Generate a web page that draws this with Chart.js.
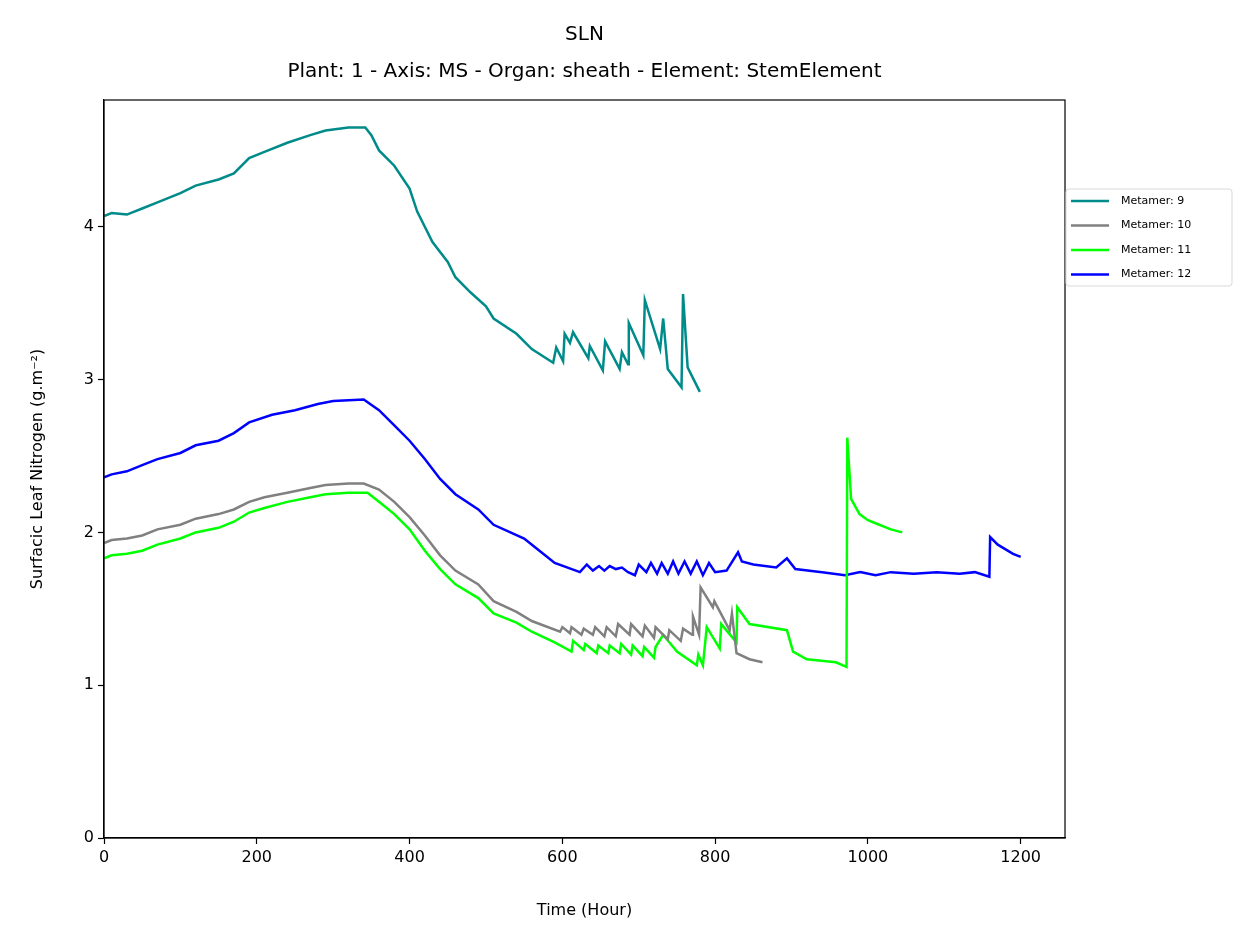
<!DOCTYPE html>
<html>
<head>
<meta charset="utf-8">
<script src="https://cdn.jsdelivr.net/npm/chart.js@4"></script>
<style>
  html, body { margin: 0; padding: 0; background: #fff; }
  #wrap { width: 1252px; height: 945px; }
</style>
</head>
<body>
<div id="wrap"><canvas id="c" width="1252" height="945"></canvas></div>
<script>
// Time (hour) / SLN (g.m-2) pairs
const m9Hours = [0,10,30,50,70,100,120,150,170,190,210,240,270,290,320,342,350,360,380,400,410,430,450,460,480,500,510,540,560,588,592,601,603,610,614,634,636,653,656,675,678,686,687,706,708,728,732,738,756,758,764,780];
const m9Values = [4.07,4.09,4.08,4.12,4.16,4.22,4.27,4.31,4.35,4.45,4.49,4.55,4.60,4.63,4.65,4.65,4.60,4.50,4.40,4.25,4.10,3.90,3.77,3.67,3.57,3.48,3.40,3.30,3.20,3.11,3.21,3.12,3.30,3.24,3.31,3.14,3.22,3.06,3.25,3.07,3.18,3.10,3.37,3.16,3.52,3.20,3.40,3.07,2.95,3.56,3.08,2.92];

const m10Hours = [0,10,30,50,70,100,120,150,170,190,210,240,270,290,320,340,360,380,400,420,440,460,490,510,540,560,597,600,610,612,625,628,640,643,655,658,670,673,688,690,705,708,720,722,738,740,755,758,770,771,779,781,797,799,819,822,828,845,862];
const m10Values = [1.93,1.95,1.96,1.98,2.02,2.05,2.09,2.12,2.15,2.20,2.23,2.26,2.29,2.31,2.32,2.32,2.28,2.20,2.10,1.98,1.85,1.75,1.66,1.55,1.48,1.42,1.35,1.38,1.34,1.38,1.33,1.37,1.33,1.38,1.32,1.38,1.32,1.40,1.33,1.40,1.32,1.39,1.31,1.38,1.30,1.36,1.29,1.37,1.33,1.45,1.33,1.64,1.51,1.55,1.36,1.47,1.21,1.17,1.15];

const m11Hours = [0,10,30,50,70,100,120,150,170,190,210,240,270,290,320,345,360,380,400,420,440,460,490,510,540,560,590,612,614,628,630,645,647,660,662,675,677,690,692,705,707,720,722,732,750,776,778,784,789,806,808,828,829,845,894,902,920,958,972,973,978,989,1000,1010,1030,1045];
const m11Values = [1.83,1.85,1.86,1.88,1.92,1.96,2.00,2.03,2.07,2.13,2.16,2.20,2.23,2.25,2.26,2.26,2.20,2.12,2.02,1.88,1.76,1.66,1.57,1.47,1.41,1.35,1.28,1.22,1.29,1.23,1.27,1.21,1.26,1.21,1.26,1.21,1.27,1.20,1.26,1.19,1.25,1.18,1.25,1.33,1.22,1.13,1.20,1.13,1.38,1.24,1.40,1.28,1.51,1.40,1.36,1.22,1.17,1.15,1.12,2.62,2.22,2.12,2.08,2.06,2.02,2.00];

const m12Hours = [0,10,30,50,70,100,120,150,170,190,220,250,280,300,340,360,380,400,420,440,460,490,510,550,570,590,623,632,640,648,655,662,670,678,686,695,700,710,716,724,730,738,745,752,760,768,776,784,792,800,815,830,835,850,880,894,905,940,970,990,1010,1030,1060,1090,1120,1140,1159,1160,1170,1190,1200];
const m12Values = [2.36,2.38,2.40,2.44,2.48,2.52,2.57,2.60,2.65,2.72,2.77,2.80,2.84,2.86,2.87,2.80,2.70,2.60,2.48,2.35,2.25,2.15,2.05,1.96,1.88,1.80,1.74,1.79,1.75,1.78,1.75,1.78,1.76,1.77,1.74,1.72,1.79,1.74,1.80,1.73,1.80,1.73,1.81,1.73,1.81,1.73,1.81,1.72,1.80,1.74,1.75,1.87,1.81,1.79,1.77,1.83,1.76,1.74,1.72,1.74,1.72,1.74,1.73,1.74,1.73,1.74,1.71,1.97,1.92,1.86,1.84];

const seriesNames = ["Metamer: 9", "Metamer: 10", "Metamer: 11", "Metamer: 12"];
const seriesColors = ["#008b8b", "#808080", "#00ff00", "#0000ff"];
const xTicks = [0, 200, 400, 600, 800, 1000, 1200];
const yTicks = [0, 1, 2, 3, 4];

const toPoints = (xs, ys) => xs.map((x, i) => ({ x, y: ys[i] }));
const allSeries = [
    toPoints(m9Hours, m9Values),
    toPoints(m10Hours, m10Values),
    toPoints(m11Hours, m11Values),
    toPoints(m12Hours, m12Values),
];

// title, axis titles, frame + legend drawn by hand, matplotlib style
const decorPlugin = {
    id: "decor",
    afterDraw(chart) {
        const { ctx, chartArea } = chart;
        const cx = (chartArea.left + chartArea.right) / 2;
        const cy = (chartArea.top + chartArea.bottom) / 2;
        ctx.save();
        ctx.strokeStyle = "#000";
        ctx.lineWidth = 1.2;
        ctx.strokeRect(chartArea.left, chartArea.top, chartArea.right - chartArea.left, chartArea.bottom - chartArea.top);

        ctx.fillStyle = "#000";
        ctx.textAlign = "center";
        ctx.textBaseline = "middle";
        ctx.font = "20px 'DejaVu Sans'";
        ctx.fillText("SLN", cx, 35);
        ctx.fillText("Plant: 1 - Axis: MS - Organ: sheath - Element: StemElement", cx, 72);

        ctx.font = "16px 'DejaVu Sans'";
        ctx.fillText("Time (Hour)", cx, 911);
        ctx.save();
        ctx.translate(38, cy);
        ctx.rotate(-Math.PI / 2);
        ctx.fillText("Surfacic Leaf Nitrogen (g.m\u207B\u00B2)", 0, 0);
        ctx.restore();

        // legend
        const lx = 1066, ly = 189, lw = 166, lh = 97;
        ctx.fillStyle = "rgba(255,255,255,0.8)";
        ctx.strokeStyle = "#d9d9d9";
        ctx.lineWidth = 1;
        ctx.beginPath();
        ctx.roundRect(lx, ly, lw, lh, 3);
        ctx.fill();
        ctx.stroke();
        ctx.font = "11px 'DejaVu Sans'";
        ctx.textAlign = "left";
        seriesNames.forEach((name, i) => {
            const y = ly + 12 + i * 24.5;
            ctx.strokeStyle = seriesColors[i];
            ctx.lineWidth = 2.5;
            ctx.beginPath();
            ctx.moveTo(lx + 5, y);
            ctx.lineTo(lx + 43, y);
            ctx.stroke();
            ctx.fillStyle = "#000";
            ctx.fillText(name, lx + 55, y);
        });
        ctx.restore();
    },
};

const tickGrid = { display: true, drawOnChartArea: false, drawTicks: true, tickLength: 6, tickColor: "#000", tickWidth: 1.2 };

new Chart(document.getElementById("c"), {
    type: "line",
    data: {
        datasets: allSeries.map((pts, i) => ({
            label: seriesNames[i],
            data: pts,
            borderColor: seriesColors[i],
            backgroundColor: seriesColors[i],
            borderWidth: 2.5,
            pointRadius: 0,
            tension: 0,
            fill: false,
        })),
    },
    options: {
        responsive: false,
        animation: false,
        layout: { padding: { top: 100, right: 187, left: 0, bottom: 0 } },
        plugins: {
            legend: { display: false },
            title: { display: false },
            tooltip: { enabled: false },
        },
        scales: {
            x: {
                type: "linear",
                min: 0,
                max: 1258,
                afterFit: (s) => { s.height = 107; },
                afterBuildTicks: (s) => { s.ticks = xTicks.map((v) => ({ value: v })); },
                grid: tickGrid,
                border: { color: "#000", width: 1.2 },
                ticks: { color: "#000", font: { size: 16, family: "DejaVu Sans" }, padding: 4, callback: (v) => String(v) },
            },
            y: {
                min: 0,
                max: 4.83,
                afterFit: (s) => { s.width = 104; },
                afterBuildTicks: (s) => { s.ticks = yTicks.map((v) => ({ value: v })); },
                grid: tickGrid,
                border: { color: "#000", width: 1.2 },
                ticks: { color: "#000", font: { size: 16, family: "DejaVu Sans" }, padding: 4, callback: (v) => String(v) },
            },
        },
    },
    plugins: [decorPlugin],
});
</script>
</body>
</html>
